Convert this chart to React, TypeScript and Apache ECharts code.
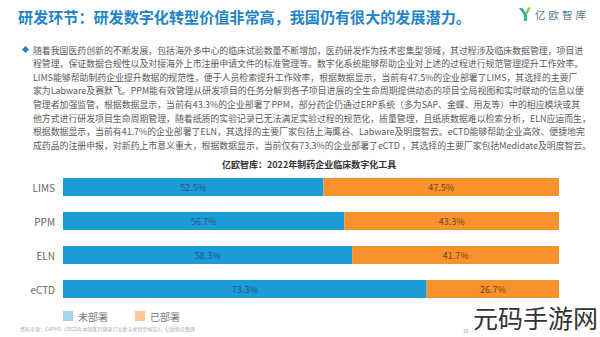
import React, { useEffect, useRef } from "react";
import * as echarts from "echarts";

const categories = ["LIMS", "PPM", "ELN", "eCTD"];
const notDeployed = [52.5, 56.7, 58.3, 73.3];
const deployed = [47.5, 43.3, 41.7, 26.7];
const seriesNames = ["未部署", "已部署"];

const pageTitle = "研发环节：研发数字化转型价值非常高，我国仍有很大的发展潜力。";
const chartTitle = "亿欧智库：2022年制药企业临床数字化工具";
const paragraph = [
  "随着我国医药创新的不断发展，包括海外多中心的临床试验数量不断增加，医药研发作为技术密集型领域，其过程涉及临床数据管理，项目进",
  "程管理，保证数据合规性以及对接海外上市注册申请文件的标准管理等。数字化系统能够帮助企业对上述的过程进行规范管理提升工作效率。",
  "LIMS能够帮助制药企业提升数据的规范性，便于人员检索提升工作效率，根据数据显示，当前有47.5%的企业部署了LIMS，其选择的主要厂",
  "家为Labware及赛默飞。PPM能有效管理从研发项目的任务分解到各子项目进展的全生命周期提供动态的项目全局视图和实时联动的信息以便",
  "管理者加强监管，根据数据显示，当前有43.3%的企业部署了PPM，部分药企仍通过ERP系统（多为SAP、金蝶、用友等）中的相应模块或其",
  "他方式进行研发项目生命周期管理，随着纸质的实验记录已无法满足实验过程的规范化，质量管理，且纸质数据难以检索分析，ELN应运而生，",
  "根据数据显示，当前有41.7%的企业部署了ELN，其选择的主要厂家包括上海鹰谷、Labware及明度智云。eCTD能够帮助企业高效、便捷地完",
  "成药品的注册申报，对新药上市意义重大，根据数据显示，当前仅有73.3%的企业部署了eCTD ，其选择的主要厂家包括Medidate及明度智云。",
];
const sourceNote = "资料来源：CAPHD《2022年中国医药健康行业数字化转型报告》，亿欧智库整理";
const logoChars = ["亿", "欧", "智", "库"];

const FONT = "'Noto Sans CJK SC', 'Noto Sans', sans-serif";

function txt(text: string, x: number, y: number, size: number, fill: string, extra: any = {}) {
  const align = extra.align || "left";
  return {
    type: "text",
    silent: true,
    style: {
      text,
      x,
      y,
      fill,
      fontSize: size,
      lineHeight: extra.lineHeight || size,
      fontFamily: FONT,
      fontWeight: extra.weight || "normal",
      textAlign: align,
      align,
      textVerticalAlign: "middle",
      verticalAlign: "middle",
    },
  };
}

export default function App() {
  const ref = useRef<HTMLDivElement>(null);
  useEffect(() => {
    if (!ref.current) return;
    const chart = echarts.init(ref.current, null, { renderer: "svg" });
    const graphics: any[] = [];
    graphics.push(txt(pageTitle, 18, 16, 15.1, "#1f84c8", { weight: "bold" }));
    // logo
    graphics.push({
      type: "polygon",
      silent: true,
      shape: { points: [[519, 8], [522.5, 8], [527, 14.5], [527, 21], [524, 21], [524, 15]] },
      style: { fill: "#2fb0a6" },
    });
    graphics.push({
      type: "polygon",
      silent: true,
      shape: { points: [[528, 7.5], [531, 7.5], [527, 14.5], [525.5, 12.5]] },
      style: { fill: "#8cc63f" },
    });
    logoChars.forEach((c, i) => {
      graphics.push(txt(c, 535 + i * 13.5, 14, 10.5, "#5a7a95"));
    });
    // bullet diamond
    graphics.push({
      type: "polygon",
      silent: true,
      shape: { points: [[25.5, 46], [29, 49.5], [25.5, 53], [22, 49.5]] },
      style: { fill: "#1f84c8" },
    });
    paragraph.forEach((line, i) => {
      graphics.push(txt(line, 33, 50 + i * 13.6, 8.9, "#5a5a5a"));
    });
    graphics.push(txt(chartTitle, 222, 164, 9, "#333333", { weight: "bold" }));
    graphics.push(txt(sourceNote, 20, 328.5, 5, "#b0b0b0"));
    graphics.push(txt("16", 463, 330, 5, "#999999"));
    graphics.push(txt("元码手游网", 473, 317, 25, "#333333", { lineHeight: 24 }));

    chart.setOption({
      animation: false,
      backgroundColor: "#ffffff",
      textStyle: { fontFamily: FONT },
      grid: { left: 63, right: 41, top: 170, height: 136, containLabel: false },
      xAxis: {
        type: "value",
        min: 0,
        max: 100,
        show: false,
      },
      yAxis: {
        type: "category",
        data: categories,
        inverse: true,
        axisLine: { show: false },
        axisTick: { show: false },
        splitLine: { show: false },
        axisLabel: { color: "#666666", fontSize: 10, margin: 8, fontFamily: FONT },
      },
      legend: {
        left: 63,
        top: 311,
        padding: 0,
        itemWidth: 10,
        itemHeight: 10,
        itemGap: 27,
        icon: "rect",
        textStyle: { color: "#777777", fontSize: 10, lineHeight: 10, fontFamily: FONT },
        data: [
          { name: seriesNames[0], itemStyle: { color: "#a5d6f0" } },
          { name: seriesNames[1], itemStyle: { color: "#fcc795" } },
        ],
      },
      series: [
        {
          name: seriesNames[0],
          type: "bar",
          stack: "total",
          data: notDeployed,
          barWidth: 18,
          itemStyle: { color: "#1b9bd7" },
          label: {
            show: true,
            position: "inside",
            formatter: (p: any) => p.value.toFixed(1) + "%",
            color: "#2a5878",
            fontSize: 9,
            fontFamily: FONT,
          },
        },
        {
          name: seriesNames[1],
          type: "bar",
          stack: "total",
          data: deployed,
          barWidth: 18,
          itemStyle: { color: "#f7922c" },
          label: {
            show: true,
            position: "inside",
            formatter: (p: any) => p.value.toFixed(1) + "%",
            color: "#6e4520",
            fontSize: 9,
            fontFamily: FONT,
          },
        },
      ],
      graphic: graphics,
    });
    return () => chart.dispose();
  }, []);
  return (
    <div
      ref={ref}
      style={{ position: "fixed", left: 0, top: 0, width: 600, height: 337, background: "#fff" }}
    />
  );
}
